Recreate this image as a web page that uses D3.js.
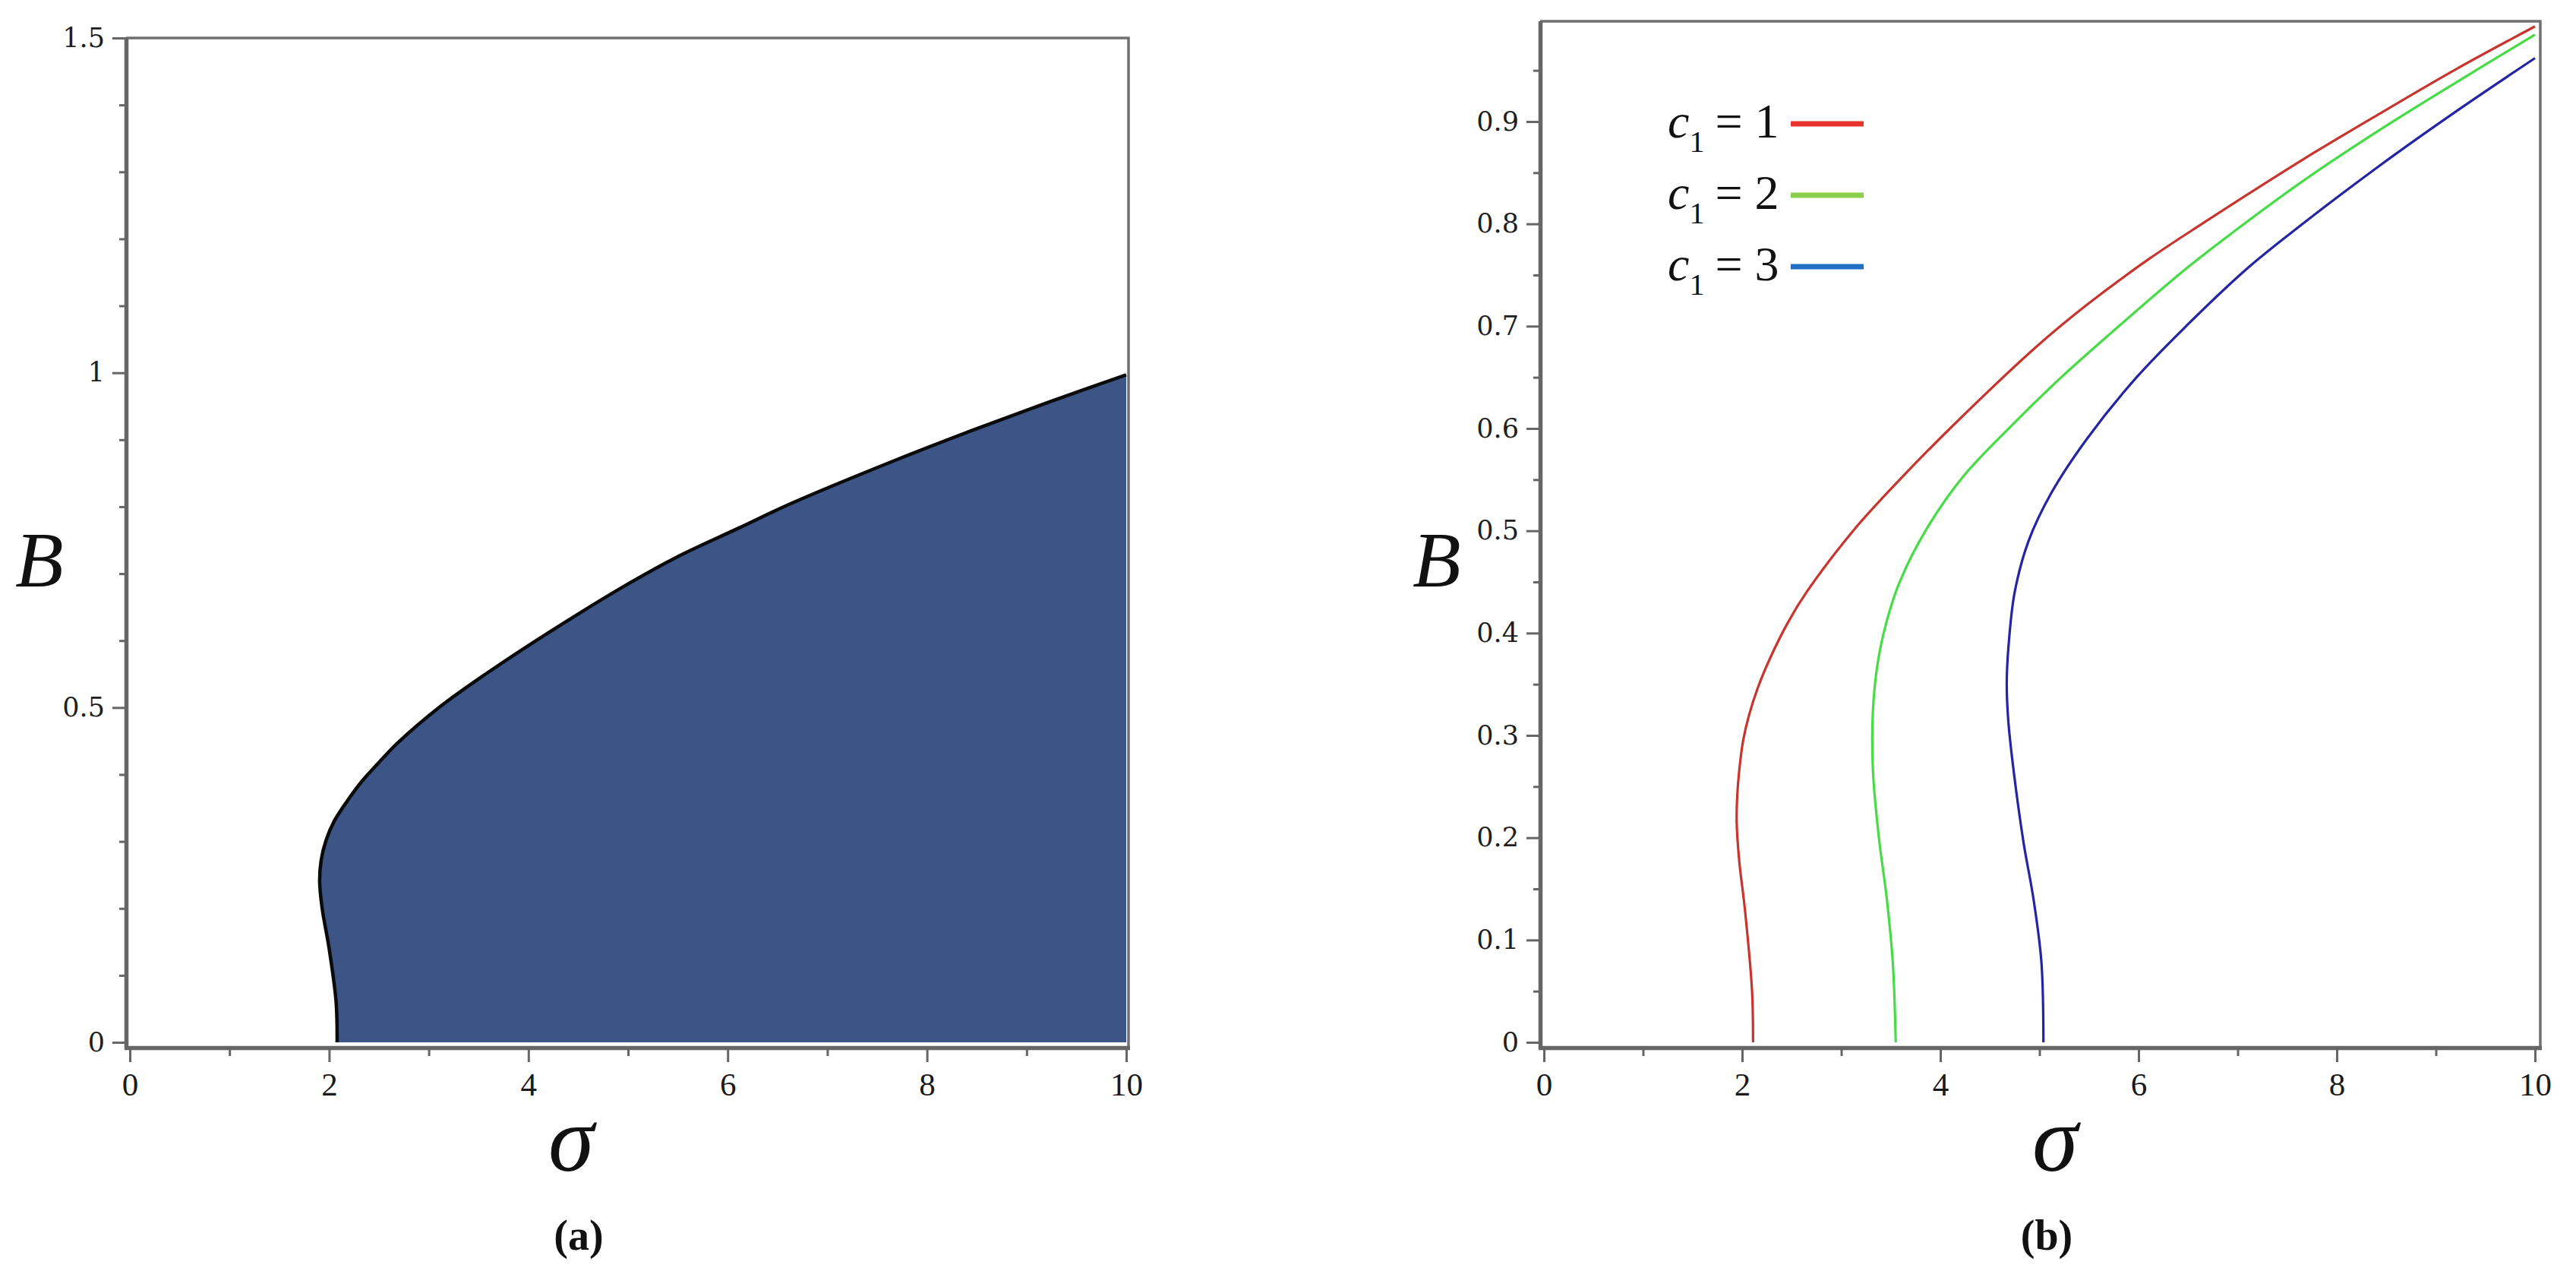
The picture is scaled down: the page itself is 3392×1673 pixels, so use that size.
<!DOCTYPE html>
<html>
<head>
<meta charset="utf-8">
<script src="https://cdn.jsdelivr.net/npm/d3@7"></script>
<style>
  html, body { margin: 0; padding: 0; background: #ffffff; }
  svg { display: block; }
</style>
</head>
<body>
<svg id="chart" width="3392" height="1673"></svg>
<script>
// ---------------- DATA ----------------
// x-axis (sigma) ticks
const sigmaMajorTicks = [0, 2, 4, 6, 8, 10];
const sigmaMinorTicks = [1, 3, 5, 7, 9];
// panel (a) B ticks
const bTicksA = [0, 0.5, 1, 1.5];
const bMinorTicksA = [0.1, 0.2, 0.3, 0.4, 0.6, 0.7, 0.8, 0.9, 1.1, 1.2, 1.3, 1.4];
// panel (b) B ticks
const bTicksB = [0, 0.1, 0.2, 0.3, 0.4, 0.5, 0.6, 0.7, 0.8, 0.9];
const bMinorTicksB = [0.05, 0.15, 0.25, 0.35, 0.45, 0.55, 0.65, 0.75, 0.85, 0.95];

// panel (a): boundary of the shaded region, [sigma, B]
const boundaryA = [
  [2.08, 0.000], [2.07, 0.060], [2.00, 0.140], [1.93, 0.200], [1.905, 0.240],
  [1.92, 0.272], [1.97, 0.302], [2.05, 0.330], [2.18, 0.360], [2.33, 0.390],
  [2.50, 0.418], [2.68, 0.446], [3.12, 0.502], [3.59, 0.552], [4.15, 0.607],
  [4.97, 0.682], [5.48, 0.724], [6.11, 0.768], [6.64, 0.805], [7.66, 0.868],
  [8.42, 0.912], [9.20, 0.955], [10.0, 0.997]
];

// panel (b): curves, [sigma, B]
const curveC1_1 = [
  [2.11, 0.000], [2.10, 0.050], [2.03, 0.128], [1.97, 0.178], [1.945, 0.215],
  [1.95, 0.240], [1.97, 0.265], [2.01, 0.295], [2.07, 0.320], [2.16, 0.347],
  [2.28, 0.375], [2.46, 0.410], [2.65, 0.440], [3.12, 0.500], [3.59, 0.550],
  [4.15, 0.605], [4.97, 0.680], [5.48, 0.721], [6.11, 0.766], [6.64, 0.800],
  [7.66, 0.863], [8.42, 0.907], [9.20, 0.951], [10.0, 0.993]
];
const curveC1_2 = [
  [3.55, 0.000], [3.52, 0.078], [3.46, 0.140], [3.38, 0.200], [3.32, 0.265],
  [3.32, 0.325], [3.37, 0.372], [3.46, 0.412], [3.59, 0.450], [3.85, 0.500],
  [4.23, 0.553], [4.71, 0.602], [5.22, 0.650], [5.73, 0.694], [6.49, 0.757],
  [6.97, 0.793], [7.66, 0.842], [8.42, 0.891], [9.20, 0.938], [10.0, 0.985]
];
const curveC1_3 = [
  [5.04, 0.000], [5.02, 0.078], [4.94, 0.140], [4.84, 0.195], [4.74, 0.265],
  [4.685, 0.315], [4.67, 0.352], [4.69, 0.390], [4.75, 0.440], [4.89, 0.490],
  [5.12, 0.537], [5.48, 0.590], [5.98, 0.650], [6.49, 0.701], [7.08, 0.755],
  [7.51, 0.789], [8.42, 0.856], [9.19, 0.909], [10.0, 0.962]
];

const seriesLabels = ["1", "2", "3"];
const seriesCurves = [curveC1_1, curveC1_2, curveC1_3];
const lineColors = ["#c8342e", "#45dc45", "#2424a4"];
const legendColors = ["#e6332c", "#8ccf4e", "#1f6fc4"];

// ---------------- DRAWING ----------------
const svg = d3.select("#chart");
svg.append("rect").attr("width", 3392).attr("height", 1673).attr("fill", "#ffffff");

const AXIS_GRAY = "#666666";
const FRAME_GRAY = "#707070";

function drawPanel(opts) {
  const g = svg.append("g");
  const x = d3.scaleLinear().domain([0, 10]).range(opts.xRange);
  const y = d3.scaleLinear().domain(opts.yDomain).range(opts.yRange);
  const yTop = opts.yDomain[1];

  // frame (top and right)
  g.append("path")
    .attr("d", `M${x(0) - 5},${y(yTop)} L${x(10) + opts.frameDx},${y(yTop)} L${x(10) + opts.frameDx},${y(0) + 7}`)
    .attr("fill", "none").attr("stroke", FRAME_GRAY).attr("stroke-width", 3.5);

  // contents
  opts.content(g, x, y);

  // x axis
  const xAxisY = y(0) + 7;
  const xMinor = g.append("g").attr("transform", `translate(0,${xAxisY})`)
    .call(d3.axisBottom(x).tickValues(sigmaMinorTicks).tickSize(11).tickSizeOuter(0).tickFormat(""));
  xMinor.select(".domain").remove();
  const xAx = g.append("g").attr("transform", `translate(0,${xAxisY})`)
    .call(d3.axisBottom(x).tickValues(sigmaMajorTicks).tickSize(19).tickSizeOuter(0).tickPadding(13));
  xAx.select(".domain").attr("d", `M${x(0) - 7},0.5H${x(10) + opts.frameDx + 2}`);
  xAx.selectAll("text")
    .attr("font-family", "'Liberation Serif', 'Times New Roman', serif")
    .attr("font-size", 43).attr("fill", "#1a1a1a");

  // y axis
  const yAxisX = x(0) - 5;
  const yMinor = g.append("g").attr("transform", `translate(${yAxisX},0)`)
    .call(d3.axisLeft(y).tickValues(opts.yMinor).tickSize(9).tickSizeOuter(0).tickFormat(""));
  yMinor.select(".domain").remove();
  const yAx = g.append("g").attr("transform", `translate(${yAxisX},0)`)
    .call(d3.axisLeft(y).tickValues(opts.yTicks).tickSize(18).tickSizeOuter(0).tickPadding(10)
      .tickFormat(d => d3.format("")(+d.toFixed(2))));
  yAx.select(".domain").attr("d", `M0.5,${y(yTop)}V${xAxisY + 2}`);
  yAx.selectAll("text")
    .attr("font-family", "'DejaVu Serif', serif")
    .attr("font-size", 35).attr("fill", "#1e1e1e");

  [xMinor, xAx, yMinor, yAx].forEach(a => {
    a.selectAll(".tick line").attr("stroke", AXIS_GRAY).attr("stroke-width", 3);
    a.selectAll(".domain").attr("stroke", AXIS_GRAY).attr("stroke-width", 5.5);
  });

  // axis titles
  g.append("text").attr("x", opts.bLabelX).attr("y", 772)
    .attr("font-family", "'Liberation Serif', 'Times New Roman', serif")
    .attr("font-style", "italic").attr("font-size", 104).attr("fill", "#111")
    .text("B");
  g.append("text").attr("x", opts.sigmaX).attr("y", 1541).attr("text-anchor", "middle")
    .attr("font-family", "'Liberation Serif', 'Times New Roman', serif")
    .attr("font-style", "italic").attr("font-size", 122).attr("fill", "#111")
    .text("σ");
  g.append("text").attr("x", opts.capX).attr("y", 1645).attr("text-anchor", "middle")
    .attr("font-family", "'Liberation Serif', 'Times New Roman', serif")
    .attr("font-weight", "bold").attr("font-size", 56).attr("fill", "#111")
    .text(opts.caption);
  return { x, y };
}

const smoothLine = (x, y) => d3.line().x(d => x(d[0])).y(d => y(d[1]))
  .curve(d3.curveCatmullRom.alpha(0.5));

// Panel (a)
drawPanel({
  xRange: [171, 1483],
  yDomain: [0, 1.5],
  yRange: [1372, 50],
  yTicks: bTicksA,
  yMinor: bMinorTicksA,
  frameDx: 3,
  bLabelX: 20,
  sigmaX: 752,
  capX: 762,
  caption: "(a)",
  content: (g, x, y) => {
    const line = smoothLine(x, y);
    const last = boundaryA[boundaryA.length - 1];
    const first = boundaryA[0];
    g.append("path")
      .attr("d", line(boundaryA) + `L${x(last[0])},${y(0)}L${x(first[0])},${y(0)}Z`)
      .attr("fill", "#3d5586").attr("stroke", "none");
    g.append("path").attr("d", line(boundaryA))
      .attr("fill", "none").attr("stroke", "#0a0a0a").attr("stroke-width", 4.5);
  }
});

// Panel (b)
drawPanel({
  xRange: [2033, 3338],
  yDomain: [0, 0.998],
  yRange: [1372, 28],
  yTicks: bTicksB,
  yMinor: bMinorTicksB,
  frameDx: 7,
  bLabelX: 1860,
  sigmaX: 2706,
  capX: 2695,
  caption: "(b)",
  content: (g, x, y) => {
    const line = smoothLine(x, y);
    seriesCurves.forEach((c, i) => {
      g.append("path").attr("d", line(c))
        .attr("fill", "none").attr("stroke", lineColors[i]).attr("stroke-width", 3.2);
    });
    // legend
    const leg = g.append("g");
    seriesLabels.forEach((lab, i) => {
      const base = 181 + i * 94;
      const t = leg.append("text").attr("x", 2196).attr("y", base)
        .attr("font-family", "'Liberation Serif', 'Times New Roman', serif")
        .attr("font-size", 64).attr("fill", "#111");
      t.append("tspan").attr("font-style", "italic").text("c");
      t.append("tspan").attr("font-size", 40).attr("dy", 19).text("1");
      t.append("tspan").attr("dy", -19).attr("dx", 14).text("= " + lab);
      leg.append("line").attr("x1", 2358).attr("x2", 2454)
        .attr("y1", base - 18).attr("y2", base - 18)
        .attr("stroke", legendColors[i]).attr("stroke-width", 7);
    });
  }
});
</script>
</body>
</html>
